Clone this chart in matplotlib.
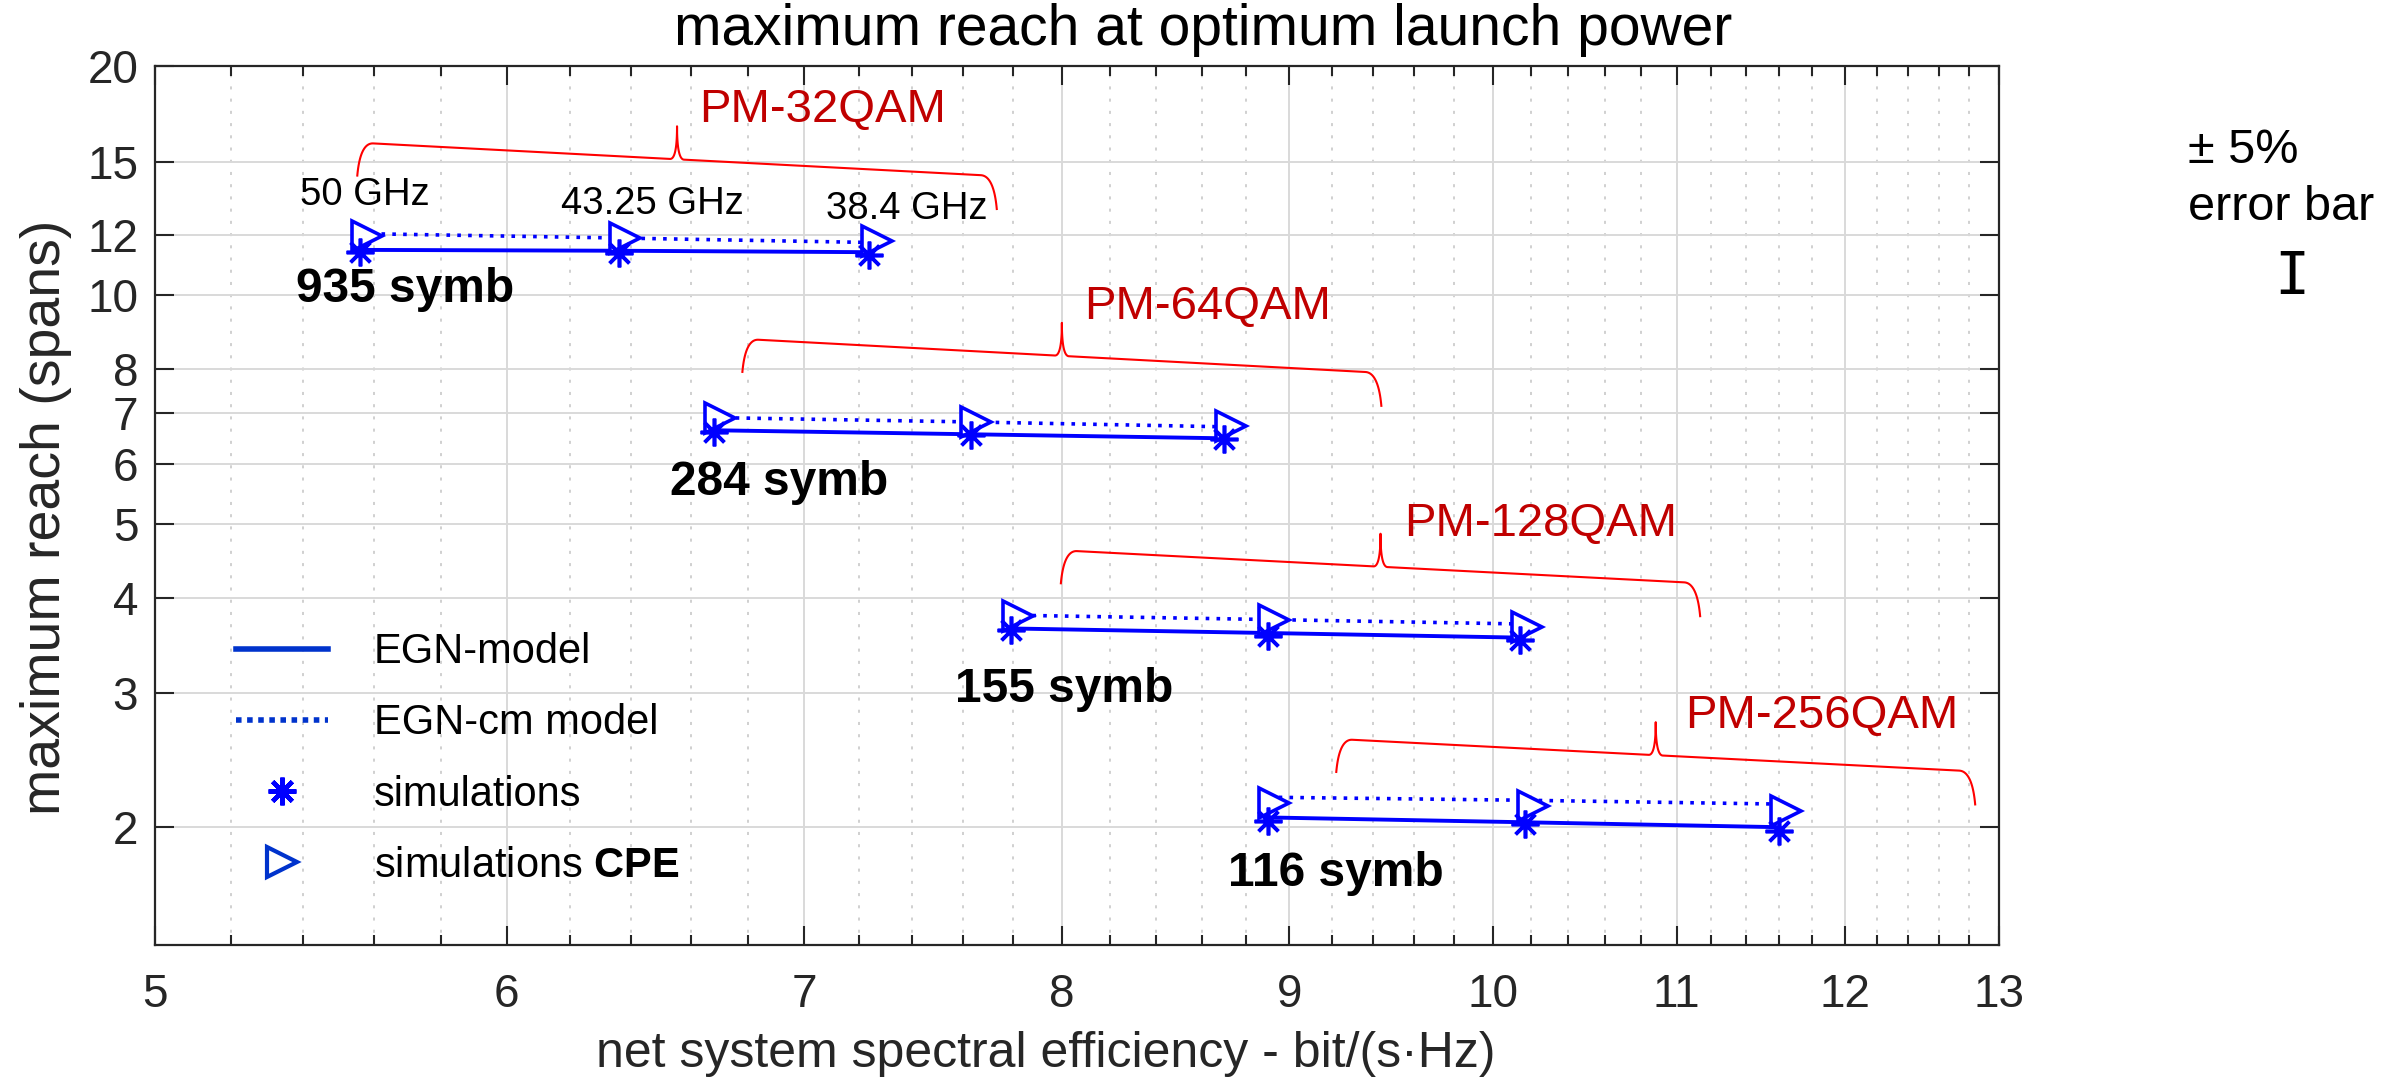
import numpy as np
import matplotlib
matplotlib.use('Agg')
import matplotlib.pyplot as plt
from matplotlib.lines import Line2D
from matplotlib.ticker import FixedLocator, NullLocator, NullFormatter

plt.rcParams['font.family'] = ['Liberation Sans', 'DejaVu Sans']
plt.rcParams['mathtext.fontset'] = 'custom'
plt.rcParams['mathtext.rm'] = 'Liberation Sans'
plt.rcParams['mathtext.bf'] = 'Liberation Sans:bold'

# ---- data ----
formats = ['PM-32QAM', 'PM-64QAM', 'PM-128QAM', 'PM-256QAM']
symb_labels = ['935 symb', '284 symb', '155 symb', '116 symb']
spacing_labels = ['50 GHz', '43.25 GHz', '38.4 GHz']

# net spectral efficiency (x) for the 3 channel spacings
se_32 = [5.56, 6.36, 7.24]
se_64 = [6.68, 7.63, 8.70]
se_128 = [7.79, 8.90, 10.14]
se_256 = [8.90, 10.17, 11.60]
se_cpe_32 = [5.58, 6.38, 7.27]
se_cpe_64 = [6.70, 7.65, 8.73]
se_cpe_128 = [7.82, 8.93, 10.18]
se_cpe_256 = [8.93, 10.21, 11.64]

# max reach (spans)
egn_32 = [11.48, 11.45, 11.40]
egn_64 = [6.65, 6.57, 6.49]
egn_128 = [3.65, 3.60, 3.55]
egn_256 = [2.06, 2.03, 2.00]

egn_cm_32 = [12.06, 11.90, 11.74]
egn_cm_64 = [6.91, 6.82, 6.72]
egn_cm_128 = [3.80, 3.75, 3.70]
egn_cm_256 = [2.19, 2.17, 2.145]

sim_32 = [11.42, 11.37, 11.31]
sim_64 = [6.62, 6.55, 6.47]
sim_128 = [3.63, 3.57, 3.52]
sim_256 = [2.04, 2.02, 1.98]

sim_cpe_32 = [11.98, 11.90, 11.78]
sim_cpe_64 = [6.90, 6.81, 6.74]
sim_cpe_128 = [3.79, 3.74, 3.67]
sim_cpe_256 = [2.15, 2.13, 2.10]

x_ticks = [5, 6, 7, 8, 9, 10, 11, 12, 13]
y_ticks = [2, 3, 4, 5, 6, 7, 8, 10, 12, 15, 20]

se = [se_32, se_64, se_128, se_256]
se_cpe = [se_cpe_32, se_cpe_64, se_cpe_128, se_cpe_256]
egn = [egn_32, egn_64, egn_128, egn_256]
egn_cm = [egn_cm_32, egn_cm_64, egn_cm_128, egn_cm_256]
sim = [sim_32, sim_64, sim_128, sim_256]
sim_cpe = [sim_cpe_32, sim_cpe_64, sim_cpe_128, sim_cpe_256]

# annotation anchors (data coords)
brace_left = [(5.57, 15.87), (6.80, 8.76), (8.02, 4.62), (9.25, 2.61)]
brace_right = [(7.71, 14.37), (9.41, 7.92), (11.10, 4.19), (12.80, 2.37)]
fmt_pos = [(6.63, 17.55), (8.09, 9.66), (9.55, 5.01), (11.05, 2.80)]
symb_pos = [(5.38, 10.17), (6.53, 5.68), (7.57, 3.03), (8.72, 1.74)]
spacing_pos = [(5.39, 13.57), (6.17, 13.20), (7.08, 12.98)]

BLUE = '#0000ff'
DARK = '#262626'

fig = plt.figure(figsize=(23.87, 10.88), dpi=100)
ax = fig.add_axes([0.0649, 0.1314, 0.7726, 0.8075])
ax.set_xscale('log')
ax.set_yscale('log')
ax.set_xlim(5, 13)
ax.set_ylim(1.4, 20)

for i in range(4):
    ax.plot(se[i], egn_cm[i], color=BLUE, lw=2.6, ls=(0, (1, 2.0)), zorder=3)
    ax.plot(se[i], egn[i], color=BLUE, lw=2.8, zorder=4)
    ax.plot(se_cpe[i], sim_cpe[i], ls='none', marker='>', ms=21, mfc='white',
            mec=BLUE, mew=2.6, zorder=5)
    ax.plot(se[i], sim[i], ls='none', marker=(8, 2, 0), ms=20, mec=BLUE,
            mew=2.6, zorder=6)

# axes cosmetics
ax.xaxis.set_major_locator(FixedLocator(x_ticks))
ax.xaxis.set_minor_locator(FixedLocator([v for v in np.arange(5.2, 13, 0.2)
                                         if abs(v - round(v)) > 0.01]))
ax.xaxis.set_minor_formatter(NullFormatter())
ax.set_xticklabels([str(v) for v in x_ticks])
ax.yaxis.set_major_locator(FixedLocator(y_ticks))
ax.yaxis.set_minor_locator(NullLocator())
ax.set_yticklabels([str(v) for v in y_ticks])

ax.tick_params(which='both', direction='in', top=True, right=True,
               colors=DARK, width=1.5)
ax.tick_params(which='major', length=14, labelsize=33, pad=20)
ax.tick_params(axis='y', which='major', pad=12)
ax.tick_params(which='minor', length=7)
for s in ax.spines.values():
    s.set_color(DARK)
    s.set_linewidth(1.6)

ax.grid(True, which='major', color='#d9d9d9', lw=1.4)
ax.grid(True, which='minor', axis='x', color='#c4c4c4', lw=1.1, ls=(0, (2, 6)))
ax.set_axisbelow(True)

ax.set_xlabel('net system spectral efficiency - bit/(s\u00b7Hz)', fontsize=36, color=DARK)
ax.xaxis.set_label_coords(0.483, -0.098)
ax.set_ylabel('maximum reach (spans)', fontsize=40, color=DARK)
ax.yaxis.set_label_coords(-0.045, 0.487)
fig.text(0.504, 0.972, 'maximum reach at optimum launch power', fontsize=41,
         ha='center', va='center')


def brace(ax, left, right, depth=33, spike=33):
    tr = ax.transData
    p0 = tr.transform(left)
    p1 = tr.transform(right)
    L = np.hypot(*(p1 - p0))
    d = (p1 - p0) / L

    def bez(a, c, e, n=25):
        t = np.linspace(0, 1, n)[:, None]
        return (1 - t) ** 2 * np.array(a) + 2 * (1 - t) * t * np.array(c) + t ** 2 * np.array(e)

    m = L / 2
    pts = np.vstack([
        bez((-6, -depth), (-3, 0), (10, 0)),
        bez((m - 7, 0), (m, 0), (m, spike)),
        bez((m, spike), (m, 0), (m + 7, 0)),
        bez((L - 10, 0), (L + 3, 0), (L + 6, -depth)),
    ])
    xy = p0 + pts[:, :1] * d + pts[:, 1:] * np.array([0, 1])
    xy = tr.inverted().transform(xy)
    ax.plot(xy[:, 0], xy[:, 1], color='red', lw=1.5, zorder=7, clip_on=False)


for i in range(4):
    brace(ax, brace_left[i], brace_right[i])
    ax.text(*fmt_pos[i], formats[i], color='#c00000', fontsize=34,
            ha='left', va='center', zorder=8)
    ax.text(*symb_pos[i], symb_labels[i], color='black', fontsize=34.5,
            fontweight='bold', ha='left', va='center', zorder=8)
for i in range(3):
    ax.text(*spacing_pos[i], spacing_labels[i], color='black', fontsize=27.5,
            ha='left', va='center', zorder=8)

# legend
handles = [
    Line2D([], [], color='#0033cc', lw=4),
    Line2D([], [], color='#0033cc', lw=4, ls=(0, (1, 1))),
    Line2D([], [], ls='none', marker=(8, 2, 0), ms=20, mec=BLUE, mew=3.2),
    Line2D([], [], ls='none', marker='>', ms=22, mfc='white', mec='#0033cc', mew=3),
]
labels = ['EGN-model', 'EGN-cm model', 'simulations', 'simulations $\\bf{CPE}$']
fig.legend(handles, labels, loc='upper left', bbox_to_anchor=(0.0989, 0.419),
           frameon=False, fontsize=30, borderpad=0, borderaxespad=0,
           handlelength=2.2, handletextpad=1.1, labelspacing=0.75)

# error bar note
fig.text(0.9166, 0.8621, '\u00b1 5%', fontsize=35, ha='left', va='center')
fig.text(0.9166, 0.8097, 'error bar', fontsize=35, ha='left', va='center')
fig.text(0.9602, 0.745, 'I', fontsize=42, family='DejaVu Sans Mono',
         ha='center', va='center')

fig.savefig('out.png', dpi=100)
